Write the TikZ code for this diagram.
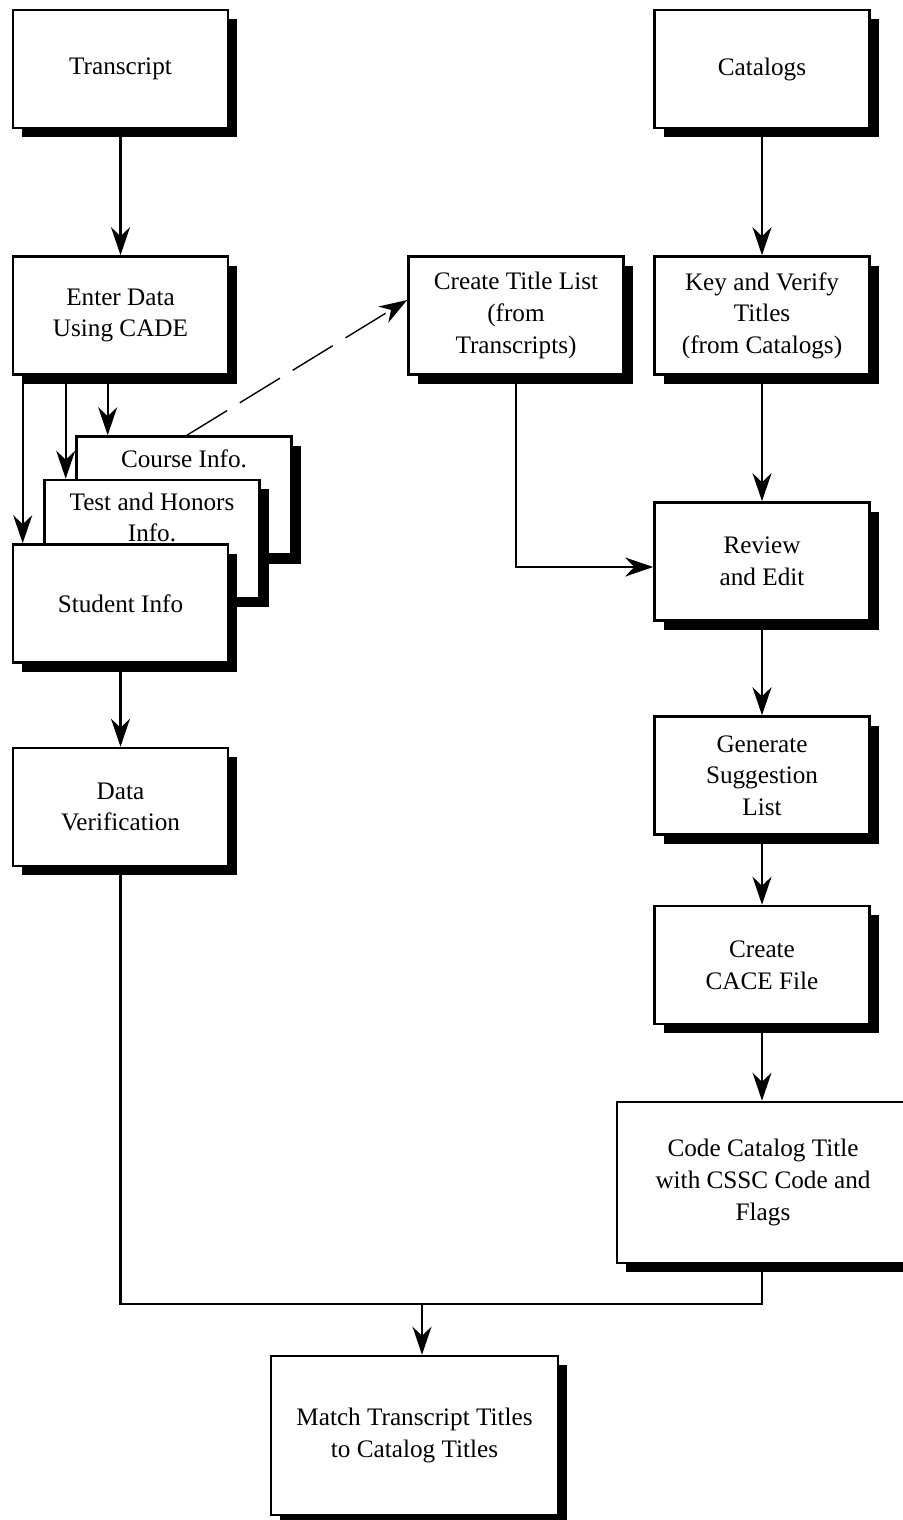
\documentclass[tikz,border=0pt]{standalone}
\usepackage{fontspec}
\setmainfont{Liberation Serif}
\usetikzlibrary{
  arrows.meta,
  shadows
}

\begin{document}
\begin{tikzpicture}[
  x=0.5pt,
  y=-0.5pt,
  box/.style={
    draw,
    line width=1.3pt,
    fill=white,
    minimum width=107.5pt,
    minimum height=59pt,
    align=center,
    font=\fontsize{12.6}{15.8}\selectfont,
    general shadow={fill=black,shadow xshift=4.5pt,shadow yshift=-4.5pt}
    },
  topbox/.style 2 args={
    box,
    text height=#1,
    text depth=#2,
    inner ysep=4.5pt
    },
  flow/.style={
    line width=1.1pt,
    -{Stealth[length=14pt,width=9.5pt,inset=4.5pt]}
    },
  link/.style={
    line width=1.1pt
    },
  dashedflow/.style={
    line width=0.7pt,
    dash pattern=on 23.5pt off 7.5pt,
    -{Stealth[length=14pt,width=9.5pt,inset=4.5pt]}
    }
]
\useasboundingbox (0,0) rectangle (903,1520);
\clip (0,0) rectangle (903,1520);

\node[box] (transcript) at (120.5,69) {Transcript};
\node[box] (catalogs) at (762,69) {Catalogs};
\node[box] (enter) at (120.5,315.5) {Enter Data\\Using CADE};
\node[box] (titlelist) at (516,315.5) {Create Title List\\(from\\Transcripts)};
\node[box] (keyverify) at (762,315.5) {Key and Verify\\Titles\\(from Catalogs)};
\node[topbox={10pt}{38.5pt}] (course) at (184,495.5) {Course Info.};
\node[topbox={25.8pt}{23.2pt}] (test) at (152,539) {Test and Honors\\Info.};
\node[box] (student) at (120.5,603.5) {Student Info};
\node[box] (review) at (762,561.5) {Review\\and Edit};
\node[box] (generate) at (762,775.5) {Generate\\Suggestion\\List};
\node[box] (verification) at (120.5,807) {Data\\Verification};
\node[box] (cace) at (762,965) {Create\\CACE File};
\node[box,minimum width=146pt,minimum height=80.5pt]
  (code) at (763,1182.5)
  {Code Catalog Title\\with CSSC Code and\\Flags};
\node[box,minimum width=143.5pt,minimum height=79.5pt]
  (match) at (414.5,1435.5)
  {Match Transcript Titles\\to Catalog Titles};

\coordinate (e1) at ([xshift=5.5pt]enter.south west);
\coordinate (e2) at ([xshift=27pt]enter.south west);
\coordinate (e3) at ([xshift=48pt]enter.south west);
\coordinate (join) at (422,1304);

\draw[flow] (transcript) -- (enter);
\draw[flow] (catalogs) -- (keyverify);
\draw[flow] (e1) -- (e1 |- student.north);
\draw[flow] (e2) -- (e2 |- test.north);
\draw[flow] (e3) -- (e3 |- course.north);
\draw[dashedflow] ([xshift=1.5pt]course.north) -- ([yshift=7.75pt]titlelist.west);
\draw[flow] (titlelist.south) |- ([yshift=-2.75pt]review.west);
\draw[flow] (keyverify) -- (review);
\draw[flow] (review) -- (generate);
\draw[flow] (generate) -- (cace);
\draw[flow] (cace) -- (code.north -| cace);
\draw[flow] (student) -- (verification);
\draw[link] (verification.south) |- (join) -| (code.south -| cace);
\draw[flow] (join) -- (join |- match.north);
\end{tikzpicture}
\end{document}
